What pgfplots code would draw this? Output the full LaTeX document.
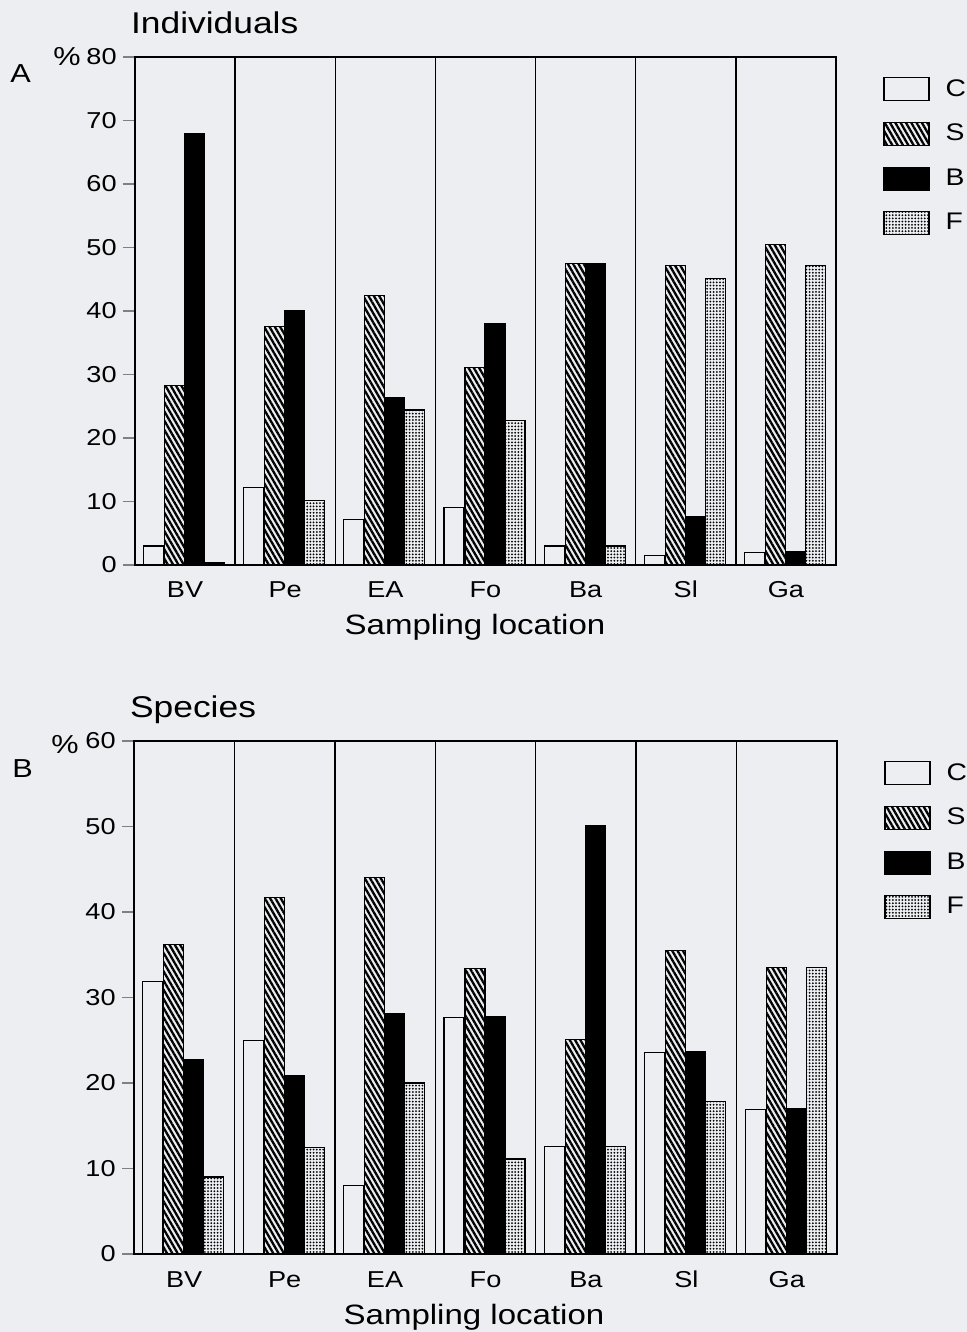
\documentclass[border=0pt]{standalone}
\usepackage{fontspec}
\setmainfont{Liberation Sans}[FakeStretch=1.18]
\usepackage{pgfplots}
\pgfplotsset{compat=1.18}
\usetikzlibrary{patterns.meta}
\definecolor{paper}{RGB}{237,238,242}

\tikzset{
  fC/.style={draw=black, line width=0.6pt, fill=paper},
  fS/.style={draw=black, line width=0.6pt, preaction={fill=paper}, pattern={Lines[angle=-60,distance=2.3pt,line width=1.15pt]}},
  fB/.style={draw=black, line width=0.6pt, fill=black},
  fF/.style={draw=black, line width=0.6pt, preaction={fill=paper}, pattern={Dots[angle=0,distance=1.6pt,radius=0.5pt]}},
}

\pgfplotsset{
  panel/.style={
    scale only axis,
    xmin=-0.5, xmax=6.5, ymin=0,
    axis line style={line width=0.8pt},
    xtick={0,...,6}, xticklabels={BV,Pe,EA,Fo,Ba,Sl,Ga},
    minor xtick={0.5,1.5,...,5.5},
    xminorgrids, minor x grid style={black,line width=0.75pt},
    minor tick length=0pt,
    xtick style={draw=none},
    ytick pos=left,
    tick align=outside,
    major tick length=6pt,
    ytick style={line width=0.8pt},
    /pgf/number format/assume math mode=true,
    tick label style={font=\fontsize{11.5}{13}\selectfont},
    yticklabel style={inner sep=0pt, xshift=-3pt},
    xticklabel style={anchor=base, inner sep=0pt, yshift=-10.5pt},
    legend image code/.code={\draw[#1] (0pt,-5.75pt) rectangle (22.5pt,5.75pt);},
    legend style={draw=none, fill=none, at={(1,1)}, anchor=north west,
      xshift=23.5pt, yshift=-9pt, row sep=8.5pt, inner sep=0pt,
      font=\fontsize{12}{14}\selectfont,
      /tikz/every odd column/.append style={column sep=6pt}},
    legend cell align=left,
  },
  pC/.style={ybar, bar width=10pt, bar shift=-15.75pt, fC},
  pS/.style={ybar, bar width=10pt, bar shift=-5.25pt, fS},
  pB/.style={ybar, bar width=10pt, bar shift=4.75pt, fB},
  pF/.style={ybar, bar width=10pt, bar shift=14.75pt, fF},
}

\begin{document}
\begin{tikzpicture}
\fill[paper] (0,0) rectangle (483.5pt,666pt);
\useasboundingbox (0,0) rectangle (483.5pt,666pt);

% Panel A: Individuals
\begin{axis}[panel, name=pa, at={(67.5pt,383.5pt)}, anchor=south west,
  width=350.5pt, height=254pt, ymax=80, ytick={0,10,...,80}]
\addplot[pC] coordinates {(0,3) (1,12.2) (2,7.2) (3,9) (4,3) (5,1.5) (6,2)};
\addplot[pS] coordinates {(0,28.3) (1,37.6) (2,42.5) (3,31.1) (4,47.5) (5,47.2) (6,50.5)};
\addplot[pB] coordinates {(0,68) (1,40) (2,26.3) (3,38) (4,47.5) (5,7.6) (6,2.1)};
\addplot[pF] coordinates {(0,0.3) (1,10.1) (2,24.4) (3,22.7) (4,3) (5,45.1) (6,47.2)};
\legend{C,S,B,F}
\end{axis}
\node[anchor=base west, font=\fontsize{15}{18}\selectfont] at ([xshift=-5.5pt,yshift=11.5pt]pa.north west) {Individuals};
\node[font=\fontsize{13}{15}\selectfont] at ([xshift=-57.25pt,yshift=-8.5pt]pa.north west) {A};
\node[font=\fontsize{13}{15}\selectfont] at ([xshift=-34pt]pa.north west) {\%};
\node[anchor=base, font=\fontsize{14}{17}\selectfont] at ([xshift=170pt,yshift=-35pt]pa.south west) {Sampling location};

% Panel B: Species
\begin{axis}[panel, name=pb, at={(67pt,39pt)}, anchor=south west,
  width=351.5pt, height=256.5pt, ymax=60, ytick={0,10,...,60}]
\addplot[pC] coordinates {(0,31.9) (1,25.0) (2,8.0) (3,27.7) (4,12.6) (5,23.6) (6,16.9)};
\addplot[pS] coordinates {(0,36.2) (1,41.7) (2,44.0) (3,33.4) (4,25.1) (5,35.5) (6,33.5)};
\addplot[pB] coordinates {(0,22.7) (1,20.9) (2,28.1) (3,27.8) (4,50.1) (5,23.7) (6,17.0)};
\addplot[pF] coordinates {(0,9.0) (1,12.5) (2,20.0) (3,11.1) (4,12.6) (5,17.8) (6,33.5)};
\legend{C,S,B,F}
\end{axis}
\node[anchor=base west, font=\fontsize{15}{18}\selectfont] at ([xshift=-5.5pt,yshift=12pt]pb.north west) {Species};
\node[font=\fontsize{13}{15}\selectfont] at ([xshift=-55.75pt,yshift=-14pt]pb.north west) {B};
\node[font=\fontsize{13}{15}\selectfont] at ([xshift=-34.5pt,yshift=-2pt]pb.north west) {\%};
\node[anchor=base, font=\fontsize{14}{17}\selectfont] at ([xshift=170pt,yshift=-35.5pt]pb.south west) {Sampling location};
\end{tikzpicture}
\end{document}
